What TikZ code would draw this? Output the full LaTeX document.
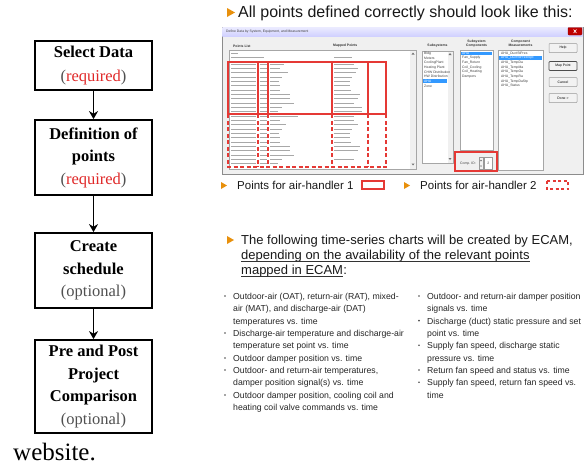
\documentclass[tikz,border=0pt]{standalone}
\usepackage{fontspec}
\setmainfont{Liberation Serif}
\newfontfamily\arial{Liberation Sans}
\usetikzlibrary{arrows.meta}
\definecolor{orng}{HTML}{E8900C}
\definecolor{redl}{HTML}{E53935}
\definecolor{winbg}{HTML}{F0F0F0}
\definecolor{selblue}{HTML}{3399FF}
\definecolor{reqred}{HTML}{E02828}
\definecolor{optgray}{HTML}{505050}
\definecolor{rowgray}{HTML}{A8A8A8}
\begin{document}
\begin{tikzpicture}[x=1pt,y=-1pt,
  flowbox/.style={draw=black,line width=1.8pt,minimum width=117pt,inner sep=0pt,align=center,
    font=\bfseries\fontsize{16.5}{22.5}\selectfont},
  flowarrow/.style={line width=1.8pt,-{Stealth[length=8pt,width=9pt]}},
  headtxt/.style={anchor=base west,inner sep=0pt,font=\arial\fontsize{16}{18}\selectfont,text=black!90},
  charttxt/.style={anchor=base west,inner sep=0pt,font=\arial\fontsize{13}{15}\selectfont,text=black!90},
  legtxt/.style={anchor=base west,inner sep=0pt,font=\arial\fontsize{11.5}{13}\selectfont,text=black!90},
  bultxt/.style={anchor=base west,inner sep=0pt,font=\arial\fontsize{8.7}{10}\selectfont,text=black!85},
  tiny/.style={inner sep=0pt,font=\arial\fontsize{3.4}{3.8}\selectfont,text=black!75},
  tinyb/.style={inner sep=0pt,font=\arial\bfseries\fontsize{3.4}{3.8}\selectfont,text=black!80,align=center},
  listbox/.style={draw=black!35,line width=0.5pt,fill=white},
  btn/.style={draw=black!40,line width=0.5pt,fill=black!5,rounded corners=0.8pt,minimum width=28pt,minimum height=9pt,inner sep=0pt,font=\arial\fontsize{3.4}{3.8}\selectfont},
  redbox/.style={draw=redl,line width=1.3pt},
  reddash/.style={draw=redl,line width=1.3pt,dash pattern=on 4pt off 2.5pt},
  rowline/.style={draw=rowgray,line width=1.0pt},
  uline/.style={draw=black!80,line width=0.7pt}
]
\useasboundingbox (0,0) rectangle (586,467);
\fill[white] (0,0) rectangle (586,467);

% ---------------- flowchart ----------------
\node[flowbox,minimum height=49pt] (b1) at (93.5,65.5) {Select Data\\[1pt]{\mdseries\color{optgray}(\textcolor{reqred}{required})}};
\node[flowbox,minimum height=75pt] (b2) at (93.5,157.5) {Definition of\\points\\{\mdseries\color{optgray}(\textcolor{reqred}{required})}};
\node[flowbox,minimum height=75pt] (b3) at (93.5,270.5) {Create\\schedule\\{\mdseries\color{optgray}(optional)}};
\node[flowbox,minimum height=93pt] (b4) at (93.5,386.5) {Pre and Post\\Project\\Comparison\\{\mdseries\color{optgray}(optional)}};
\draw[flowarrow] (b1.south) -- (b2.north);
\draw[flowarrow] (b2.south) -- (b3.north);
\draw[flowarrow] (b3.south) -- (b4.north);
\node[anchor=base west,inner sep=0pt,font=\fontsize{25}{27}\selectfont] (web) at (13,460) {website.};

% ---------------- heading ----------------
\fill[orng] (227,8) -- (235,12.5) -- (227,17) -- cycle;
\node[headtxt] (h1) at (238,17.5) {All points defined correctly should look like this:};

% ---------------- screenshot window ----------------
\draw[draw=black!45,line width=0.6pt,fill=winbg] (222,27) rectangle (583,174);
\shade[top color=blue!8,bottom color=blue!18] (222.3,27.3) rectangle (582.7,36);
\node[tiny,anchor=west] (wtitle) at (226,31.5) {Define Data by System, Equipment, and Measurement};
\filldraw[fill=red!75!black,draw=red!50!black,line width=0.3pt,rounded corners=0.8pt] (568,27.5) rectangle (582,35);
\draw[white,line width=0.6pt] (573.5,29.5) -- (576.5,33) (576.5,29.5) -- (573.5,33);

% points list
\node[tinyb,anchor=west] (plh) at (233,46) {Points List};
\node[tinyb,anchor=west] (mph) at (333,46) {Mapped Points};
\draw[listbox] (229,50) rectangle (416,169);
\fill[black!6] (410,50.5) rectangle (415.5,168.5);
\fill[black!55] (411.5,54.5) -- (413,52.5) -- (414.5,54.5) -- cycle;
\fill[black!55] (411.5,163.5) -- (413,165.5) -- (414.5,163.5) -- cycle;
\draw[rowline] (231,53.5) -- (238,53.5);
\draw[rowline] (231,57.8) -- (264,57.8);
\draw[rowline] (334,57.8) -- (352,57.8);
\foreach \i/\a/\b in {0/14/20,1/10/24,2/18/22,3/12/18,4/9/16,5/10/16,6/10/17,7/20/26,8/20/24,9/24/20,10/12/28,11/8/28,
                      12/28/20,13/10/20,14/16/24,15/12/18,16/9/16,17/10/16,18/10/17,19/20/26,20/20/24,21/24/0,22/12/20,23/8/0}{
  \pgfmathsetmacro{\yy}{64.2+4.33*\i}
  \draw[rowline] (231,\yy) -- (256,\yy);
  \draw[rowline] (259.5,\yy) -- (266.5,\yy);
  \draw[rowline] (270,\yy) -- ++(\a,0);
  \ifnum\b>0 \draw[rowline] (334,\yy) -- ++(\b,0); \fi
}
% red marks for air-handler points
\draw[redbox] (228,62) rectangle (386,114);
\foreach \xx in {258,268,332,368}{\draw[redbox] (\xx,62) -- (\xx,114);}
\draw[reddash] (228,114) -- (228,167) -- (386,167) -- (386,114);
\foreach \xx in {258,268,332,368}{\draw[reddash] (\xx,114) -- (\xx,167);}

% subsystems
\node[tinyb] (ssh) at (437.5,46) {Subsystems};
\draw[listbox] (422,51) rectangle (453,163);
\fill[black!6] (447.5,51.5) rectangle (452.5,162.5);
\fill[black!55] (448.5,55) -- (450,53) -- (451.5,55) -- cycle;
\fill[black!55] (448.5,158) -- (450,160) -- (451.5,158) -- cycle;
\fill[selblue] (423,79.2) rectangle (447,83);
\foreach \t [count=\k from 0] in {Bldg,Meters,CoolingPlant,Heating Plant,CHW Distribution,HW Distribution,AHU,Zone}{
  \pgfmathsetmacro{\yy}{53.3+4.65*\k}
  \ifnum\k=6
    \node[tiny,anchor=west,text=white] at (424,\yy) {\t};
  \else
    \node[tiny,anchor=west] at (424,\yy) {\t};
  \fi
}

% subsystem components
\node[tinyb] (sch) at (476.5,43.5) {Subsystem\\Components};
\draw[listbox] (460,50) rectangle (493,150);
\fill[selblue] (461,51.5) rectangle (492,55.2);
\foreach \t [count=\k from 0] in {AHU,Fan\_Supply,Fan\_Return,Coil\_Cooling,Coil\_Heating,Dampers}{
  \pgfmathsetmacro{\yy}{53.3+4.65*\k}
  \ifnum\k=0
    \node[tiny,anchor=west,text=white] at (462,\yy) {\t};
  \else
    \node[tiny,anchor=west] at (462,\yy) {\t};
  \fi
}

% component measurements
\node[tinyb] (cmh) at (520.5,43.5) {Component\\Measurements};
\draw[listbox] (498,50) rectangle (543,170);
\fill[selblue] (499,56.2) rectangle (542,60);
\foreach \t [count=\k from 0] in {AHU\_DuctStPres,AHU\_DuctStPresStpt,AHU\_TempDa,AHU\_TempMa,AHU\_TempOa,AHU\_TempRa,AHU\_TempDaStp,AHU\_Status}{
  \pgfmathsetmacro{\yy}{53.3+4.65*\k}
  \ifnum\k=1
    \node[tiny,anchor=west,text=white] at (501,\yy) {\t};
  \else
    \node[tiny,anchor=west] at (501,\yy) {\t};
  \fi
}

% buttons
\node[btn] (help) at (563,48) {Help};
\node[btn,draw=black!70,line width=0.7pt] (map) at (563,66) {Map Point};
\node[btn] (cancel) at (563,82) {Cancel};
\node[btn] (done) at (563,98) {Done >};

% comp id
\node[tiny,anchor=west] (cid) at (460,163.5) {Comp. ID:};
\draw[black!40,line width=0.4pt,fill=black!5] (479,157.5) rectangle (483,169);
\fill[black!55] (480,161) -- (481,159.5) -- (482,161) -- cycle;
\fill[black!55] (480,165.5) -- (481,167) -- (482,165.5) -- cycle;
\draw[black!40,line width=0.4pt,fill=white] (484.5,157.5) rectangle (492,169);
\node[tiny] (cidv) at (488.2,163.3) {2};
\draw[redbox] (455,152) rectangle (497,171);

% ---------------- legend ----------------
\fill[orng] (221,182) -- (227,185.5) -- (221,189) -- cycle;
\node[legtxt] (l1) at (237,189.5) {Points for air-handler 1};
\draw[redl,line width=1.3pt] (362,181) rectangle (384,189);
\fill[orng] (404,182) -- (410,185.5) -- (404,189) -- cycle;
\node[legtxt] (l2) at (420,189.5) {Points for air-handler 2};
\draw[reddash,dash pattern=on 3pt off 2.5pt] (547,181) rectangle (568,189);

% ---------------- charts text ----------------
\fill[orng] (227,236) -- (234,240) -- (227,244) -- cycle;
\node[charttxt] (c1) at (241,244.5) {The following time-series charts will be created by ECAM,};
\node[charttxt] (c2) at (241,259.5) {depending on the availability of the relevant points};
\node[charttxt] (c3) at (241,274.5) {mapped in ECAM};
\node[charttxt] (c3b) at (c3.base east) {:};
\draw[uline] ([yshift=-1.8pt]c2.base west) -- ([yshift=-1.8pt]c2.base east);
\draw[uline] ([yshift=-1.8pt]c3.base west) -- ([yshift=-1.8pt]c3.base east);

% left bullets
\foreach \yy in {296,333,358,370,395}{\fill[black!70] (225,\yy) circle (0.9pt);}
\node[bultxt] (a1) at (233,299.3) {Outdoor-air (OAT), return-air (RAT), mixed-};
\node[bultxt] (a2) at (233,311.6) {air (MAT), and discharge-air (DAT)};
\node[bultxt] (a3) at (233,324.0) {temperatures vs. time};
\node[bultxt] (a4) at (233,336.3) {Discharge-air temperature and discharge-air};
\node[bultxt] (a5) at (233,348.6) {temperature set point vs. time};
\node[bultxt] (a6) at (233,361.0) {Outdoor damper position vs. time};
\node[bultxt] (a7) at (233,373.3) {Outdoor- and return-air temperatures,};
\node[bultxt] (a8) at (233,385.6) {damper position signal(s) vs. time};
\node[bultxt] (a9) at (233,398.0) {Outdoor damper position, cooling coil and};
\node[bultxt] (a10) at (233,410.3) {heating coil valve commands vs. time};

% right bullets
\foreach \yy in {296,320.6,345.3,370,382.3}{\fill[black!70] (419,\yy) circle (0.9pt);}
\node[bultxt] (r1) at (427,299.3) {Outdoor- and return-air damper position};
\node[bultxt] (r2) at (427,311.6) {signals vs. time};
\node[bultxt] (r3) at (427,324.0) {Discharge (duct) static pressure and set};
\node[bultxt] (r4) at (427,336.3) {point vs. time};
\node[bultxt] (r5) at (427,348.6) {Supply fan speed, discharge static};
\node[bultxt] (r6) at (427,361.0) {pressure vs. time};
\node[bultxt] (r7) at (427,373.3) {Return fan speed and status vs. time};
\node[bultxt] (r8) at (427,385.6) {Supply fan speed, return fan speed vs.};
\node[bultxt] (r9) at (427,398.0) {time};
\end{tikzpicture}
\end{document}
